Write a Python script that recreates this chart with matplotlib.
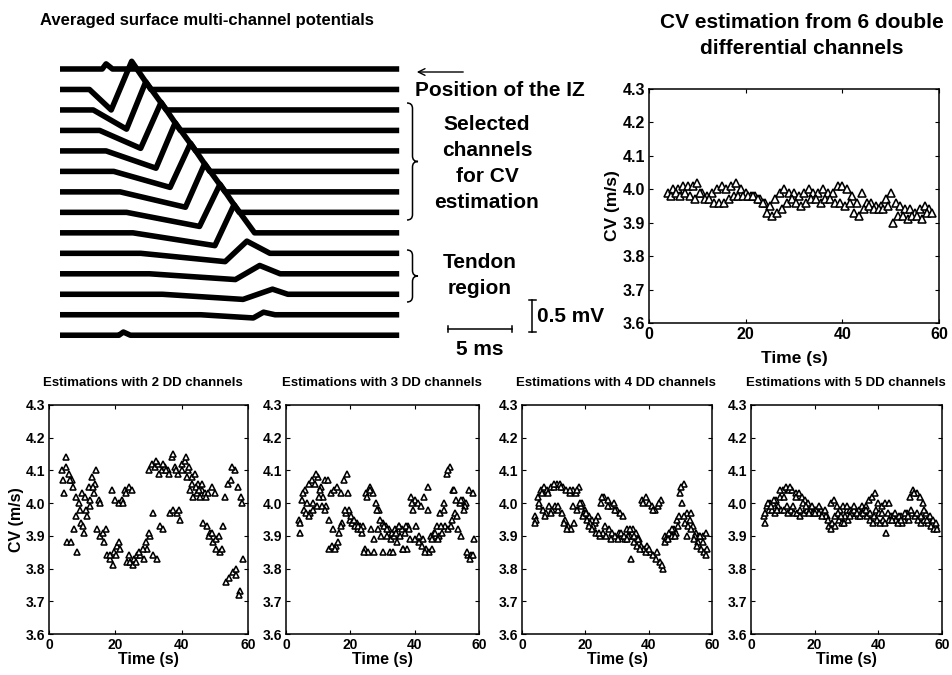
import numpy as np
import matplotlib
matplotlib.use('Agg')
import matplotlib.pyplot as plt
from matplotlib.path import Path
from matplotlib.patches import PathPatch

plt.rcParams['font.family'] = ['Liberation Sans', 'DejaVu Sans']
plt.rcParams['font.weight'] = 'bold'
plt.rcParams['axes.labelweight'] = 'bold'

W, H = 952, 675
nan = np.nan

# averaged potentials: key times (ms) and amplitudes (mV) of each of the 14 channels
ch_start  = [3.0, 2.3, 2.6, 3.1, 3.6, 4.2, 4.7, 5.2, 5.7, 6.3, 7.0, 8.0, 11.0, 4.4]
ch_trough = [3.3, 4.0, 5.2, 6.3, 7.5, 8.6, 9.8, 10.9, 12.1, 12.9, 13.7, 14.3, 15.1, 4.6]
ch_peak   = [3.6, 5.6, 6.7, 7.9, 9.0, 10.2, 11.3, 12.5, 13.6, 14.6, 15.6, 16.6, 15.9, 4.95]
ch_end    = [4.1, 7.1, 8.3, 9.4, 10.6, 11.7, 12.9, 14.0, 15.2, 16.4, 17.2, 17.8, 16.8, 5.5]
ch_depth  = [0.0, 0.32, 0.30, 0.28, 0.27, 0.25, 0.24, 0.22, 0.20, 0.13, 0.09, 0.08, 0.05, 0.0]
ch_height = [0.08, 0.44, 0.44, 0.44, 0.44, 0.44, 0.44, 0.44, 0.44, 0.19, 0.13, 0.08, 0.04, 0.05]
ch_gap = 0.32       # mV between traces
trace_len = 26.5    # ms
scale_ms = 5
scale_mv = 0.5

# conduction velocity estimates (m/s), one value per second, several channel combinations
t = np.arange(4, 59)

cv6_a = [3.99, 4.00, 4.00, 4.01, 4.01, 4.01, 4.02, 3.99, 3.98, 3.99, 4.00,
         4.01, 4.00, 4.01, 4.02, 4.00, 3.99, 3.98, 3.98, 3.97, 3.96, 3.95,
         3.97, 3.99, 4.00, 3.99, 3.99, 3.98, 3.99, 4.00, 3.99, 3.99, 4.00,
         3.99, 3.99, 4.01, 4.01, 4.00, 3.98, 3.96, 3.99, 3.96, 3.96, 3.95,
         3.95, 3.97, 3.99, 3.96, 3.95, 3.94, 3.94, 3.93, 3.94, 3.95, 3.94]
cv6_b = [3.98, 3.99, 3.98, 3.99, 3.98, 3.97, 3.99, 3.97, 3.97, 3.96, 3.96,
         3.96, 3.97, 3.98, 3.98, 3.98, 3.98, 3.98, 3.97, 3.96, 3.93, 3.92,
         3.93, 3.94, 3.96, 3.97, 3.96, 3.95, 3.96, 3.97, 3.97, 3.96, 3.97,
         3.97, 3.96, 3.96, 3.95, 3.96, 3.93, 3.92, 3.94, 3.95, 3.94, 3.94,
         3.94, 3.95, 3.90, 3.92, 3.92, 3.91, 3.92, 3.92, 3.91, 3.93, 3.93]

cv2_a = [4.10, 4.14, 4.09, 4.07, 4.02, 4.00, 4.03, 4.02, 4.05, 4.08, 4.06,
         4.01, nan, nan, nan, 4.04, 4.01, 4.00, 4.01, 4.04, 4.05, 4.04,
         nan, nan, nan, nan, 4.10, 4.12, 4.11, 4.12, 4.10, 4.11, 4.10,
         4.14, 4.11, 4.09, 4.12, 4.13, 4.10, 4.08, 4.09, 4.06, 4.04, 4.03,
         4.03, 4.05, 4.03, nan, nan, 4.02, 4.06, 4.07, 4.10, 4.05, 4.02]
cv2_b = [4.03, 3.88, 3.88, 3.92, 3.85, 3.94, 3.91, 3.96, 3.99, 4.03, 3.92,
         3.90, 3.88, 3.84, 3.83, 3.85, 3.87, 3.86, nan, 3.82, 3.82, 3.83,
         3.84, 3.84, 3.83, 3.86, 3.90, 3.84, 3.83, 3.93, 3.92, nan, 3.97,
         3.98, 3.97, 3.95, nan, 4.08, 4.04, 4.02, 4.03, 4.02, 3.94, 3.93,
         3.91, 3.88, 3.86, 3.85, 3.93, 3.76, nan, 3.79, 3.78, 3.73, 3.83]
cv2_c = [4.07, 4.11, 4.07, 4.05, 3.96, 3.98, 3.93, 3.98, 4.01, 4.05, 4.10,
         4.00, 3.91, 3.92, 3.84, 3.81, 3.84, 3.88, 4.00, 4.03, 3.84, 3.81,
         3.82, 3.85, 3.86, 3.88, 3.91, 3.97, 4.13, 4.09, 4.12, 4.10, 4.09,
         4.15, 4.10, 3.98, 4.10, 4.14, 4.11, 4.06, 4.05, 4.04, 4.06, 4.02,
         3.90, 3.91, 3.89, 3.90, 3.86, nan, 3.77, 4.11, 3.80, 3.72, 4.00]

cv3_a = [3.95, 4.01, 4.04, 4.06, 4.07, 4.06, 4.08, 4.05, 4.07, 4.07, 4.03,
         4.04, 4.05, 4.03, 4.07, 4.09, 3.95, 3.94, 3.94, 3.93, 3.93, 4.03,
         4.05, 4.03, 4.00, 3.98, 3.94, 3.93, 3.92, 3.91, 3.92, 3.93, 3.92,
         3.91, 3.93, 4.02, 4.01, 4.00, 3.99, 4.02, 4.05, 3.90, 3.91, 3.93,
         3.97, 4.00, 4.09, 4.11, 4.04, 4.01, 4.00, 4.01, 4.00, 4.04, 4.03]
cv3_b = [3.91, 3.98, 4.00, 3.97, 3.98, 3.99, 4.04, 4.02, 3.99, 3.95, 3.92,
         3.87, 3.91, 3.94, 3.97, 3.98, 3.94, 3.93, 3.92, 3.91, 3.86, 3.85,
         3.92, 3.89, 3.92, 3.90, 3.93, 3.90, 3.89, 3.90, 3.88, 3.90, 3.86,
         3.86, 3.89, 3.98, 3.93, 3.88, 3.89, 3.86, 3.85, 3.86, 3.90, 3.90,
         3.91, 3.93, 3.92, 3.95, 3.97, 3.92, 3.90, 3.99, 3.84, 3.84, 3.89]
cv3_c = [3.94, 4.03, 3.97, 3.96, 4.00, 4.09, 4.02, 3.99, 3.98, 3.86, 3.87,
         3.86, 3.88, 3.93, 3.98, 4.03, 3.96, 3.95, 3.93, 3.92, 3.85, 4.02,
         4.04, 3.85, 3.98, 3.95, 3.85, 3.92, 3.85, 3.85, 3.91, 3.93, 3.86,
         3.93, 3.92, 4.00, 3.89, 3.90, 3.87, 3.85, 3.98, 3.89, 3.91, 3.89,
         3.93, 3.98, 4.10, 3.93, 4.04, 3.96, 4.01, 3.98, 3.85, 3.83, 3.84]

cv4_a = [3.96, 4.02, 4.04, 4.05, 4.04, 4.05, 4.05, 4.06, 4.06, 4.05, 4.04,
         4.03, 4.04, 4.03, 4.05, 4.00, 3.98, 3.96, 3.95, 3.94, 3.96, 4.00,
         4.02, 4.01, 3.99, 4.00, 3.98, 3.97, 3.96, 3.92, 3.90, 3.92, 3.91,
         3.89, 4.01, 4.02, 4.00, 3.99, 3.98, 3.99, 4.01, 3.90, 3.90, 3.91,
         3.92, 3.95, 4.03, 4.06, 3.97, 3.95, 3.93, 3.91, 3.90, 3.90, 3.91]
cv4_b = [3.95, 3.99, 3.98, 3.97, 3.99, 3.98, 3.99, 3.98, 3.97, 3.95, 3.93,
         3.92, 3.94, 3.98, 3.99, 3.97, 3.95, 3.94, 3.93, 3.91, 3.90, 3.91,
         3.90, 3.92, 3.91, 3.90, 3.91, 3.90, 3.89, 3.90, 3.83, 3.88, 3.89,
         3.87, 3.86, 3.87, 3.85, 3.84, 3.85, 3.82, 3.80, 3.89, 3.91, 3.90,
         3.91, 3.96, 4.00, 3.94, 3.93, 3.92, 3.90, 3.88, 3.86, 3.85, 3.86]
cv4_c = [3.94, 4.00, 4.03, 3.96, 4.03, 3.97, 4.06, 3.99, 4.05, 3.94, 3.92,
         4.04, 3.99, 4.04, 4.00, 3.96, 3.97, 3.93, 3.92, 3.95, 3.91, 4.02,
         3.93, 3.99, 3.89, 3.98, 3.89, 3.91, 3.90, 3.89, 3.92, 3.90, 3.87,
         3.86, 4.00, 3.85, 3.86, 3.98, 3.83, 4.00, 3.81, 3.88, 3.89, 3.92,
         3.90, 3.93, 4.05, 3.96, 3.90, 3.97, 3.89, 3.87, 3.90, 3.88, 3.84]

cv5_a = [3.96, 3.99, 4.00, 4.00, 4.01, 4.02, 4.04, 4.05, 4.04, 4.04, 4.03,
         4.03, 4.02, 4.01, 4.00, 3.98, 3.98, 3.98, 3.98, 3.97, 3.96, 4.00,
         4.01, 3.99, 3.98, 3.99, 3.98, 3.98, 3.97, 3.98, 3.98, 3.99, 3.99,
         4.01, 4.02, 4.03, 4.00, 3.99, 4.00, 3.97, 3.96, 3.96, 3.95, 3.96,
         3.95, 3.97, 4.02, 4.04, 4.03, 4.02, 4.00, 3.97, 3.95, 3.94, 3.93]
cv5_b = [3.94, 3.98, 3.98, 3.97, 3.99, 3.98, 3.98, 3.97, 3.98, 3.97, 3.97,
         3.96, 3.97, 3.98, 3.98, 3.97, 3.98, 3.97, 3.97, 3.96, 3.93, 3.94,
         3.93, 3.95, 3.94, 3.96, 3.95, 3.97, 3.98, 3.96, 3.97, 3.98, 3.96,
         3.95, 3.96, 3.95, 3.94, 3.95, 3.91, 3.95, 3.96, 3.95, 3.96, 3.94,
         3.96, 3.95, 3.97, 3.96, 3.95, 3.94, 3.95, 3.94, 3.93, 3.92, 3.92]
cv5_c = [3.97, 4.00, 3.99, 4.01, 3.98, 4.04, 4.02, 3.99, 4.05, 3.99, 4.02,
         3.98, 4.00, 3.99, 3.97, 3.99, 3.97, 3.99, 3.96, 3.98, 3.95, 3.92,
         3.96, 3.97, 3.96, 3.94, 3.99, 3.96, 3.99, 3.97, 3.96, 3.97, 3.98,
         3.97, 3.94, 3.98, 3.97, 3.97, 3.94, 4.00, 3.95, 3.97, 3.94, 3.95,
         3.97, 3.96, 3.98, 4.03, 3.97, 3.96, 3.98, 3.95, 3.96, 3.95, 3.94]

bottom_sets = [(2, [cv2_a, cv2_b, cv2_c]), (3, [cv3_a, cv3_b, cv3_c]),
               (4, [cv4_a, cv4_b, cv4_c]), (5, [cv5_a, cv5_b, cv5_c])]


def px(x, y):
    # pixel position (top-left origin) -> figure fraction
    return x / W, 1 - y / H


def brace(fig, x0, y0, y1, w):
    ym = (y0 + y1) / 2
    xm = x0 + w / 2
    verts = [(x0, y0), (xm, y0), (xm, y0 + w / 2), (xm, ym - w / 2),
             (xm, ym), (x0 + w, ym), (xm, ym), (xm, ym + w / 2),
             (xm, y1 - w / 2), (xm, y1), (x0, y1)]
    codes = [Path.MOVETO, Path.CURVE3, Path.CURVE3, Path.LINETO,
             Path.CURVE3, Path.CURVE3, Path.CURVE3, Path.CURVE3,
             Path.LINETO, Path.CURVE3, Path.CURVE3]
    p = Path([px(*v) for v in verts], codes)
    fig.patches.append(PathPatch(p, fc='none', ec='black', lw=1.1,
                                 transform=fig.transFigure))


def cv_axes(ax, tick_fs):
    ax.set_xlim(0, 60)
    ax.set_ylim(3.6, 4.3)
    ax.set_xticks([0, 20, 40, 60])
    ax.set_yticks(np.arange(3.6, 4.31, 0.1))
    ax.set_yticklabels(['%.1f' % v for v in np.arange(3.6, 4.31, 0.1)])
    ax.tick_params(direction='in', top=True, right=True, length=3,
                   width=0.8, labelsize=tick_fs, pad=3)
    for s in ax.spines.values():
        s.set_linewidth(1.1)


def tri(ax, x, y, ms):
    ax.plot(x, y, '^', ls='none', ms=ms, mfc='white', mec='black', mew=1.15)


fig = plt.figure(figsize=(W / 100, H / 100), dpi=100)

# multi-channel potentials
axw = fig.add_axes([40 / W, 1 - 360 / H, 580 / W, 320 / H])
axw.set_xlim(-1.5625, 43.75)
axw.set_ylim(-4.547, 0.453)
axw.axis('off')
for i in range(14):
    base = -i * ch_gap
    xs = [0, ch_start[i], ch_trough[i], ch_peak[i], ch_end[i], trace_len]
    ys = [base, base, base - ch_depth[i], base + ch_height[i], base, base]
    axw.plot(xs, ys, color='black', lw=4.0, solid_joinstyle='round',
             solid_capstyle='butt')

# scale bars
sx0, sy0 = 30.3, -4.06
axw.plot([sx0, sx0 + scale_ms], [sy0, sy0], color='black', lw=1.1, clip_on=False)
axw.plot([sx0, sx0], [sy0 - 0.05, sy0 + 0.05], color='black', lw=1.1, clip_on=False)
axw.plot([sx0 + scale_ms] * 2, [sy0 - 0.05, sy0 + 0.05], color='black', lw=1.1, clip_on=False)
axw.text(sx0 + scale_ms / 2, sy0 - 0.33, '%d ms' % scale_ms, ha='center',
         va='center', fontsize=15)
vx0, vy0 = 36.9, -3.61
axw.plot([vx0, vx0], [vy0, vy0 - scale_mv], color='black', lw=1.1, clip_on=False)
axw.plot([vx0 - 0.25, vx0 + 0.25], [vy0, vy0], color='black', lw=1.1, clip_on=False)
axw.plot([vx0 - 0.25, vx0 + 0.25], [vy0 - scale_mv] * 2, color='black', lw=1.1, clip_on=False)
axw.text(vx0 + 0.35, vy0 - scale_mv / 2, '%.1f mV' % scale_mv, ha='left',
         va='center', fontsize=15)

fig.text(*px(207, 21), 'Averaged surface multi-channel potentials', ha='center',
         va='center', fontsize=12)

fig.patches.append(matplotlib.patches.FancyArrowPatch(
    px(466, 72), px(414, 72), arrowstyle='->', mutation_scale=12, lw=1.0,
    color='black', transform=fig.transFigure))
fig.text(*px(415, 90), 'Position of the IZ', ha='left', va='center', fontsize=15)

brace(fig, 407, 103, 220, 11)
for k, line in enumerate(['Selected', 'channels', 'for CV', 'estimation']):
    fig.text(*px(487, 125 + 25.7 * k), line, ha='center', va='center', fontsize=15)
brace(fig, 407, 250, 302, 11)
for k, line in enumerate(['Tendon', 'region']):
    fig.text(*px(480, 263 + 25 * k), line, ha='center', va='center', fontsize=15)

# CV from 6 double differential channels
ax6 = fig.add_axes([649 / W, 1 - 323 / H, 290 / W, 234 / H])
tri(ax6, t, cv6_a, 5.5)
tri(ax6, t + 0.5, cv6_b, 5.5)
cv_axes(ax6, 11.5)
ax6.set_xlabel('Time (s)', fontsize=12.5, labelpad=6)
ax6.set_ylabel('CV (m/s)', fontsize=12.5, labelpad=2)
fig.text(*px(802, 22), 'CV estimation from 6 double', ha='center', va='center', fontsize=15)
fig.text(*px(802, 48), 'differential channels', ha='center', va='center', fontsize=15)

# estimations with fewer channels
bottom_left = [49, 286, 522, 751]
bottom_width = [199, 193, 190, 191]
title_x = [143, 382, 616, 846]
for k, (n, tracks) in enumerate(bottom_sets):
    ax = fig.add_axes([bottom_left[k] / W, 1 - 634 / H, bottom_width[k] / W, 229 / H])
    tri(ax, t, tracks[0], 4.8)
    tri(ax, t + 0.5, tracks[1], 4.8)
    tri(ax, t + 0.25, tracks[2], 4.8)
    cv_axes(ax, 10)
    ax.set_xlabel('Time (s)', fontsize=11.5, labelpad=0)
    if k == 0:
        ax.set_ylabel('CV (m/s)', fontsize=11.5, labelpad=1)
    fig.text(*px(title_x[k], 383), 'Estimations with %d DD channels' % n,
             ha='center', va='center', fontsize=9.5)

fig.savefig('out.png', dpi=100)
